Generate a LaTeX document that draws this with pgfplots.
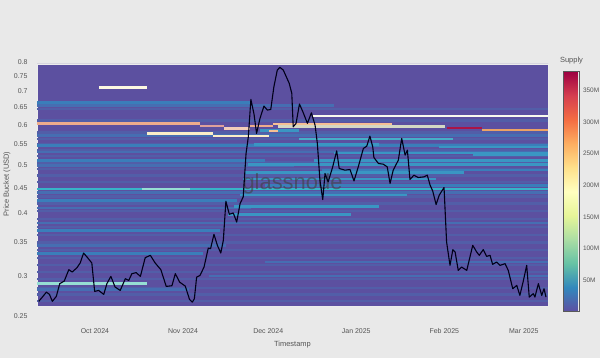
\documentclass[border=0pt]{standalone}
\usepackage{pgfplots}
\pgfplotsset{compat=1.18}
\usepackage{fontspec}
\setmainfont{Liberation Sans}
\definecolor{pagebg}{RGB}{233,233,233}
\definecolor{labgray}{RGB}{85,85,85}
\definecolor{hbase}{RGB}{92,80,160}
\definecolor{s15}{RGB}{82,94,168}
\definecolor{s25}{RGB}{70,110,178}
\definecolor{s35}{RGB}{58,126,186}
\definecolor{s50}{RGB}{58,150,195}
\definecolor{s60}{RGB}{70,175,200}
\definecolor{cyanl}{RGB}{55,180,200}
\definecolor{lcyan}{RGB}{150,222,212}
\definecolor{palew}{RGB}{252,248,225}
\definecolor{salmon}{RGB}{238,172,140}
\definecolor{pinks}{RGB}{222,160,155}
\definecolor{palepink}{RGB}{242,205,185}
\definecolor{peach}{RGB}{245,192,148}
\definecolor{paley}{RGB}{250,238,200}
\definecolor{palegw}{RGB}{212,216,196}
\definecolor{crim}{RGB}{170,20,70}
\definecolor{orng}{RGB}{236,162,100}
\definecolor{whitel}{RGB}{250,250,238}
\begin{document}
\begin{tikzpicture}
\fill[pagebg] (0,0) rectangle (600bp,358bp);
\useasboundingbox (0,0) rectangle (600bp,358bp);
\begin{axis}[
  at={(37bp,42bp)}, anchor=south west,
  scale only axis, width=511bp, height=254bp,
  xmin=-20.4, xmax=159.5, ymode=log, ymin=0.25, ymax=0.8,
  axis line style={draw=none},
  major tick length=0pt, minor tick num=0,
  xtick={0,31,61,92,123,151},
  xticklabels={Oct 2024,Nov 2024,Dec 2024,Jan 2025,Feb 2025,Mar 2025},
  ytick={0.25,0.3,0.35,0.4,0.45,0.5,0.55,0.6,0.65,0.7,0.75,0.8},
  yticklabels={0.25,0.3,0.35,0.4,0.45,0.5,0.55,0.6,0.65,0.7,0.75,0.8},
  tick label style={font=\fontsize{7}{8}\selectfont, text=labgray},
  xticklabel style={yshift=-9bp},
  yticklabel style={xshift=-6bp},
  xlabel={Timestamp}, ylabel={Price Bucket (USD)},
  label style={font=\fontsize{7.5}{9}\selectfont, text=labgray},
  xlabel style={at={(axis description cs:0.5,-0.113)}, anchor=center},
  ylabel style={at={(axis description cs:-0.0587,0.52)}, anchor=center},
  clip=false,
  unbounded coords=jump,
  colormap={spec}{rgb255=(94,79,162) rgb255=(50,136,189) rgb255=(102,194,165) rgb255=(171,221,164) rgb255=(230,245,152) rgb255=(255,255,191) rgb255=(254,224,139) rgb255=(253,174,97) rgb255=(244,109,67) rgb255=(213,62,79) rgb255=(158,1,66)},
  colorbar, point meta min=0, point meta max=380,
  colorbar style={at={(parent axis.south east)}, anchor=south west,
    xshift=7bp, yshift=4.4bp, width=16bp, height=240bp, scale only axis,
    ytick={50,100,150,200,250,300,350},
    yticklabels={50M,100M,150M,200M,250M,300M,350M},
    yticklabel style={font=\fontsize{6.5}{8}\selectfont, text=labgray},
    major tick length=0pt,
    axis line style={draw=black!65, line width=0.6bp},
    title={Supply},
    title style={font=\fontsize{7.5}{9}\selectfont, text=labgray, yshift=-2bp}},
]
% heatmap base
\addplot[fill=hbase, draw=white!85!gray, line width=0.6bp] coordinates {(-20.4,0.2612) (159.5,0.2612) (159.5,0.793) (-20.4,0.793) (-20.4,0.2612)};
% faint texture stripes
\addplot[s15, line width=2.6bp] table {
x y
-20.4 0.268
159.5 0.268
nan nan
-20.4 0.276
159.5 0.276
nan nan
-20.4 0.284
159.5 0.284
nan nan
-20.4 0.296
159.5 0.296
nan nan
-20.4 0.306
159.5 0.306
nan nan
-20.4 0.316
159.5 0.316
nan nan
-20.4 0.326
159.5 0.326
nan nan
-20.4 0.338
159.5 0.338
nan nan
-20.4 0.350
159.5 0.350
nan nan
-20.4 0.362
159.5 0.362
nan nan
-20.4 0.376
159.5 0.376
nan nan
-20.4 0.390
159.5 0.390
nan nan
-20.4 0.404
159.5 0.404
nan nan
-20.4 0.418
159.5 0.418
nan nan
-20.4 0.432
159.5 0.432
nan nan
-20.4 0.462
159.5 0.462
nan nan
-20.4 0.476
159.5 0.476
nan nan
-20.4 0.490
159.5 0.490
nan nan
-20.4 0.505
159.5 0.505
nan nan
-20.4 0.520
159.5 0.520
nan nan
-20.4 0.535
159.5 0.535
nan nan
-20.4 0.550
159.5 0.550
nan nan
-20.4 0.562
159.5 0.562
nan nan
-20.4 0.580
159.5 0.580
nan nan
-20.4 0.612
159.5 0.612
nan nan
-20.4 0.645
159.5 0.645
};
% blue stripes
\addplot[s25, line width=2.6bp] table {
x y
-20.4 0.656
84 0.656
nan nan
-20.4 0.572
159.5 0.572
nan nan
-20.4 0.530
159.5 0.530
nan nan
-20.4 0.498
70 0.498
nan nan
-20.4 0.440
159.5 0.440
nan nan
-20.4 0.410
55 0.410
nan nan
-20.4 0.383
159.5 0.383
nan nan
-20.4 0.345
46 0.345
nan nan
60 0.320
159.5 0.320
nan nan
40 0.300
159.5 0.300
nan nan
-20.4 0.282
33 0.282
};
\addplot[s35, line width=2.8bp] table {
x y
-20.4 0.665
55 0.665
nan nan
-20.4 0.545
159.5 0.545
nan nan
-20.4 0.510
60 0.510
nan nan
-20.4 0.425
50 0.425
nan nan
-20.4 0.370
44 0.370
nan nan
-20.4 0.333
38 0.333
nan nan
60 0.455
159.5 0.455
nan nan
80 0.488
159.5 0.488
};
% cyan accumulation bands
\addplot[s50, line width=2.4bp] table {
x y
47 0.398
90 0.398
nan nan
49 0.413
100 0.413
nan nan
51 0.435
110 0.435
nan nan
52 0.468
120 0.468
nan nan
53 0.482
130 0.482
nan nan
54 0.500
159.5 0.500
nan nan
56 0.548
100 0.548
nan nan
58 0.585
72 0.585
nan nan
84 0.528
159.5 0.528
nan nan
77 0.510
159.5 0.510
nan nan
121 0.542
159.5 0.542
nan nan
133 0.524
159.5 0.524
};
\addplot[s60, line width=2.4bp] table {
x y
72 0.562
126 0.562
};
\addplot[cyanl, line width=2.6bp] table {
x y
-20.4 0.447
159.5 0.447
};
\addplot[lcyan, line width=2.6bp] table {
x y
16.4 0.447
33.5 0.447
nan nan
-20.4 0.290
18.3 0.290
};
% bright supply clusters
\addplot[palew, line width=2.6bp] table {
x y
1.4 0.712
18.3 0.712
};
\addplot[salmon, line width=2.6bp] table {
x y
-20.4 0.603
37 0.603
nan nan
54.6 0.5966
62.7 0.5966
};
\addplot[pinks, line width=2.6bp] table {
x y
37 0.597
45.4 0.597
};
\addplot[palepink, line width=2.6bp] table {
x y
45.4 0.590
54.6 0.590
};
\addplot[palegw, line width=2.6bp] table {
x y
64.4 0.595
123.2 0.595
};
\addplot[peach, line width=2.6bp] table {
x y
62.7 0.6025
104.6 0.6025
nan nan
61.3 0.583
64.4 0.583
};
\addplot[paley, line width=2.6bp] table {
x y
18.3 0.577
41.5 0.577
nan nan
41.5 0.5705
61.3 0.5705
};
\addplot[whitel, line width=2.6bp] table {
x y
76.4 0.6245
159.5 0.6245
};
\addplot[crim, line width=2.6bp] table {
x y
123.9 0.5915
136.3 0.5915
};
\addplot[orng, line width=2.6bp] table {
x y
136.3 0.5856
159.5 0.5856
};
\node[font=\fontsize{22}{24}\selectfont, text=black!75, opacity=0.6] at (rel axis cs:0.5,0.52) {glassnode};
% price
\addplot[black!90!blue, line width=1.1bp, line join=round] table {
x y
-19.8 0.2673
-18.7 0.2718
-17.1 0.2789
-16.0 0.2760
-15.0 0.2673
-13.6 0.2735
-12.4 0.2899
-10.8 0.2934
-9.2 0.3091
-8.0 0.3058
-6.3 0.3120
-5.2 0.3187
-4.0 0.3335
-2.6 0.3266
-1.1 0.3187
-0.1 0.2798
1.3 0.2811
3.1 0.2760
4.2 0.2899
5.6 0.2998
7.1 0.2854
8.9 0.2811
10.7 0.2966
11.9 0.2943
13.0 0.3035
14.5 0.3049
16.0 0.2998
17.7 0.3266
19.5 0.3301
21.2 0.3187
23.2 0.3091
25.1 0.2863
27.1 0.2872
28.3 0.3035
29.8 0.2920
31.8 0.2867
33.3 0.2697
34.3 0.2664
35.0 0.2706
35.8 0.2988
37.0 0.3011
38.4 0.3128
39.9 0.3413
40.7 0.3403
41.9 0.3634
43.1 0.3456
44.3 0.3335
45.2 0.3536
46.1 0.4229
47.3 0.3984
48.7 0.4007
49.9 0.3845
51.1 0.4184
52.2 0.4313
53.2 0.5262
54.0 0.5679
54.9 0.6742
56.0 0.6302
56.9 0.5768
58.1 0.6179
59.5 0.6538
60.7 0.6419
61.9 0.6439
63.0 0.7143
64.2 0.7712
65.1 0.7808
66.3 0.7712
68.4 0.7255
69.3 0.6930
69.8 0.5946
70.8 0.6039
72.0 0.6600
73.2 0.6370
74.8 0.6040
76.2 0.6340
77.5 0.5990
78.3 0.5510
79.2 0.4660
80.2 0.4260
81.0 0.4801
82.1 0.4620
83.7 0.4949
85.1 0.5326
86.0 0.4913
88.0 0.4875
89.8 0.4890
91.2 0.4641
92.7 0.4949
94.5 0.5385
95.7 0.5442
96.8 0.5698
97.8 0.5424
98.2 0.5167
99.8 0.5027
101.5 0.5010
102.9 0.4949
103.9 0.4587
105.0 0.4875
106.8 0.5103
108.0 0.5638
109.2 0.5222
110.0 0.5343
110.9 0.4671
112.3 0.4764
113.8 0.4714
115.8 0.4727
117.0 0.4764
118.0 0.4551
118.9 0.4433
120.1 0.4165
121.2 0.4347
122.9 0.4503
123.8 0.3508
125.0 0.3153
126.0 0.3388
126.8 0.3351
127.9 0.3081
129.1 0.3128
130.9 0.3081
133.0 0.3456
134.4 0.3351
135.3 0.3301
136.7 0.3388
137.9 0.3285
139.1 0.3301
140.0 0.3167
141.4 0.3201
142.6 0.3153
144.4 0.3177
145.5 0.3081
147.1 0.2833
148.5 0.2876
149.6 0.2747
150.8 0.2934
152.0 0.3153
152.9 0.2726
154.3 0.2769
154.9 0.2726
156.1 0.2899
157.3 0.2747
158.1 0.2833
158.8 0.2726
};
\end{axis}
\end{tikzpicture}
\end{document}
